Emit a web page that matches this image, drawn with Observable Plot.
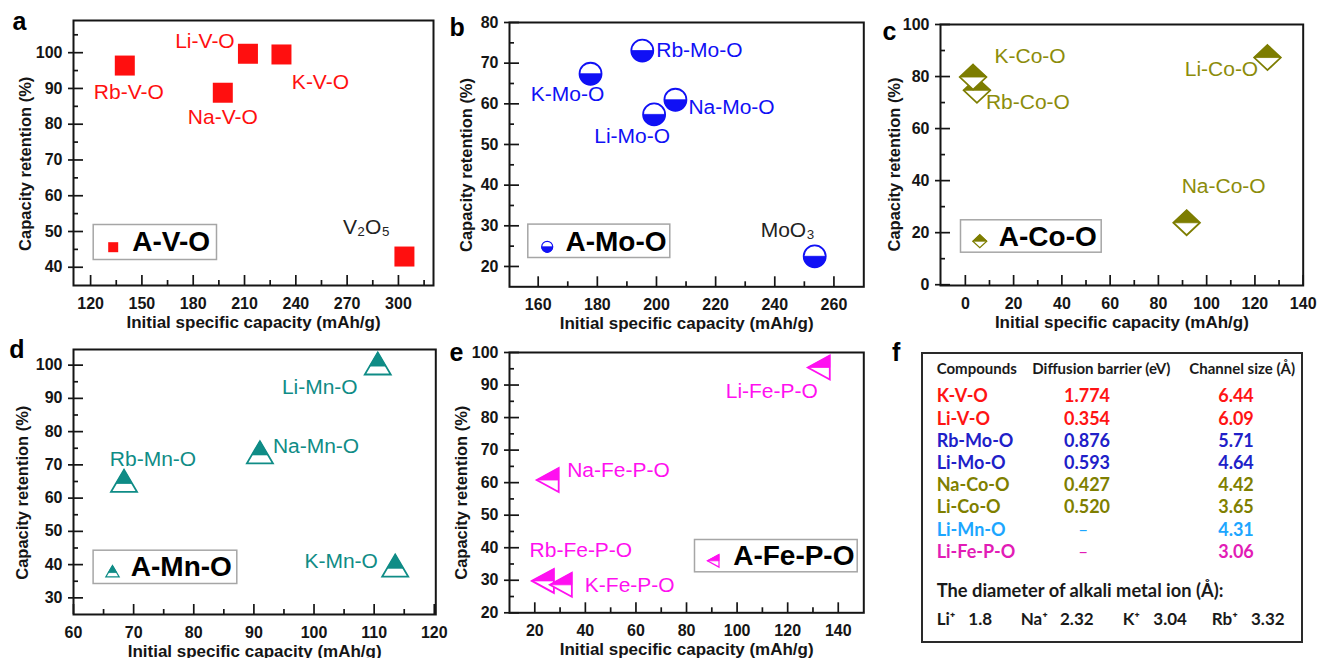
<!DOCTYPE html>
<html><head><meta charset="utf-8">
<script src="https://cdn.jsdelivr.net/npm/d3@7"></script>
<script src="https://cdn.jsdelivr.net/npm/@observablehq/plot@0.6"></script>
<style>
html,body{margin:0;padding:0;background:#fff;}
#root{position:relative;width:1319px;height:658px;overflow:hidden;background:#fff;}
.panel{position:absolute;}
.panel svg{overflow:visible;background:transparent;max-width:none;}
.t{position:absolute;font-family:Lato,"Open Sans",sans-serif;font-weight:bold;white-space:nowrap;line-height:1;}
</style></head><body><div id="root"></div>
<script>
// ---------------- DATA ----------------
const xLabelText = "Initial specific capacity (mAh/g)";
const yLabelText = "Capacity retention (%)";

// a: A-V-O
const avoNames = ["Rb-V-O", "Li-V-O", "Na-V-O", "K-V-O", "V₂O₅"];
const avoCapacity = [140, 212, 197.3, 231.6, 303.5];
const avoRetention = [96.4, 99.7, 88.8, 99.5, 43.0];
const avoXTicks = [120, 150, 180, 210, 240, 270, 300];
const avoXMinor = [135, 165, 195, 225, 255, 285, 315];
const avoYTicks = [40, 50, 60, 70, 80, 90, 100];
const avoYMinor = [45, 55, 65, 75, 85, 95, 105];

// b: A-Mo-O
const amoNames = ["K-Mo-O", "Rb-Mo-O", "Li-Mo-O", "Na-Mo-O", "MoO₃"];
const amoCapacity = [177.7, 195.2, 199.2, 206.4, 253.5];
const amoRetention = [67.4, 73.1, 57.4, 61.0, 22.5];
const amoXTicks = [160, 180, 200, 220, 240, 260];
const amoXMinor = [170, 190, 210, 230, 250];
const amoYTicks = [20, 30, 40, 50, 60, 70, 80];
const amoYMinor = [25, 35, 45, 55, 65, 75];

// c: A-Co-O
const acoNames = ["Rb-Co-O", "K-Co-O", "Li-Co-O", "Na-Co-O"];
const acoCapacity = [4.8, 3.2, 125.2, 91.7];
const acoRetention = [74.7, 79.8, 87.3, 23.8];
const acoXTicks = [0, 20, 40, 60, 80, 100, 120, 140];
const acoXMinor = [10, 30, 50, 70, 90, 110, 130];
const acoYTicks = [0, 20, 40, 60, 80, 100];
const acoYMinor = [10, 30, 50, 70, 90];

// d: A-Mn-O
const amnNames = ["Li-Mn-O", "Na-Mn-O", "Rb-Mn-O", "K-Mn-O"];
const amnCapacity = [110.6, 91.0, 68.4, 113.5];
const amnRetention = [100.5, 73.8, 65.2, 39.7];
const amnXTicks = [60, 70, 80, 90, 100, 110, 120];
const amnXMinor = [65, 75, 85, 95, 105, 115];
const amnYTicks = [30, 40, 50, 60, 70, 80, 90, 100];
const amnYMinor = [35, 45, 55, 65, 75, 85, 95];

// e: A-Fe-P-O
const afpNames = ["Li-Fe-P-O", "Na-Fe-P-O", "Rb-Fe-P-O", "K-Fe-P-O"];
const afpCapacity = [132.3, 25.1, 23.2, 30.3];
const afpRetention = [95.4, 60.8, 29.8, 28.6];
const afpXTicks = [20, 40, 60, 80, 100, 120, 140];
const afpXMinor = [30, 50, 70, 90, 110, 130];
const afpYTicks = [20, 30, 40, 50, 60, 70, 80, 90, 100];
const afpYMinor = [25, 35, 45, 55, 65, 75, 85, 95];

// f: table
const tableHeaders = ["Compounds", "Diffusion barrier (eV)", "Channel size (Å)"];
const tableCompounds = ["K-V-O", "Li-V-O", "Rb-Mo-O", "Li-Mo-O", "Na-Co-O", "Li-Co-O", "Li-Mn-O", "Li-Fe-P-O"];
const tableBarriers = ["1.774", "0.354", "0.876", "0.593", "0.427", "0.520", "–", "–"];
const tableChannels = ["6.44", "6.09", "5.71", "4.64", "4.42", "3.65", "4.31", "3.06"];
const ionTitle = "The diameter of alkali metal ion (Å):";
const ionNames = ["Li⁺", "Na⁺", "K⁺", "Rb⁺"];
const ionDiameters = ["1.8", "2.32", "3.04", "3.32"];

// ---------------- STYLE / LAYOUT ----------------
const FONT = "Liberation Sans, Arial, Helvetica, sans-serif";
const root = document.getElementById("root");

function sym(fn) { return { draw(ctx, size) { const r = Math.sqrt(size / Math.PI); fn(ctx, r); } }; }
const SQUARE = sym((c, r) => { c.moveTo(-r, -r); c.lineTo(r, -r); c.lineTo(r, r); c.lineTo(-r, r); c.closePath(); });
const CIRCLE = sym((c, r) => { c.moveTo(r, 0); c.arc(0, 0, r, 0, 2 * Math.PI); c.closePath(); });
const CIRCLE_LOW = sym((c, r) => { c.moveTo(r, 0); c.arc(0, 0, r, 0, Math.PI); c.closePath(); });
const DIAMOND = sym((c, r) => { const h = r * 0.94; c.moveTo(0, -h); c.lineTo(r, 0); c.lineTo(0, h); c.lineTo(-r, 0); c.closePath(); });
const DIAMOND_TOP = sym((c, r) => { const h = r * 0.94; c.moveTo(0, -h); c.lineTo(r, 0); c.lineTo(-r, 0); c.closePath(); });
const TRI = sym((c, r) => { const h = r * 0.85; c.moveTo(0, -h); c.lineTo(r, h); c.lineTo(-r, h); c.closePath(); });
const TRI_TOP = sym((c, r) => { const h = r * 0.85, f = 0.62, yb = -h + 2 * h * f; c.moveTo(0, -h); c.lineTo(r * f, yb); c.lineTo(-r * f, yb); c.closePath(); });
const LTRI = sym((c, r) => { const h = r * 1.09; c.moveTo(-r, 0); c.lineTo(r, -h); c.lineTo(r, h); c.closePath(); });
const LTRI_TOP = sym((c, r) => { const h = r * 1.09; c.moveTo(-r, 0); c.lineTo(r, -h); c.lineTo(r, 0); c.closePath(); });

function layers(outline, fillSym, color, sw) {
  return [
    { symbol: outline, fill: "white", stroke: color, sw },
    { symbol: fillSym, fill: color, stroke: color, sw: 0.8 }
  ];
}

function panel(P) {
  const [L, T, R, B] = P.frame, mL = 80, mT = 30, mR = 20, mB = 60;
  const fw = R - L, fh = B - T;
  const marks = [];
  const [bx0, by0, bx1, by1] = P.legendBox;
  marks.push(Plot.frame({ stroke: "#a6a6a6", strokeWidth: 1.5, insetLeft: bx0 - L, insetTop: by0 - T, insetRight: R - bx1, insetBottom: B - by1 }));
  const tk = { stroke: "#151515", strokeWidth: 1.7 };
  marks.push(Plot.tickX(P.xMinor, { x: d => d, insetTop: fh - 5, ...tk }));
  marks.push(Plot.tickX(P.xTicks, { x: d => d, insetTop: fh - 10, ...tk }));
  marks.push(Plot.tickY(P.yMinor, { y: d => d, insetRight: fw - 5, ...tk }));
  marks.push(Plot.tickY(P.yTicks, { y: d => d, insetLeft: -5, insetRight: fw - 10, ...tk }));
  marks.push(Plot.frame({ stroke: "#151515", strokeWidth: 2 }));
  const tl = { fontSize: 16, fontWeight: "bold", fontFamily: FONT, fill: "#151515" };
  marks.push(Plot.text(P.xTicks, { x: d => d, frameAnchor: "bottom", dy: 18, lineAnchor: "middle", textAnchor: "middle", text: d => String(d), ...tl }));
  marks.push(Plot.text(P.yTicks, { y: d => d, frameAnchor: "left", dx: -11, textAnchor: "end", lineAnchor: "middle", text: d => String(d), ...tl }));
  marks.push(Plot.text([xLabelText], { frameAnchor: "bottom", dy: 37, lineAnchor: "middle", textAnchor: "middle", text: d => d, ...tl, fontSize: 17 }));
  marks.push(Plot.text([yLabelText], { frameAnchor: "left", dx: P.yLabelPos[0] - L, dy: P.yLabelPos[1] - (T + B) / 2, rotate: -90, textAnchor: "middle", lineAnchor: "middle", text: d => d, ...tl, fontSize: 16.5 }));
  marks.push(Plot.text([P.letter], { frameAnchor: "top-left", dx: P.letterPos[0] - L, dy: P.letterPos[1] - T, textAnchor: "start", lineAnchor: "middle", text: d => d, ...tl, fontSize: 25, fill: "#000" }));
  // points
  P.order.forEach(i => {
    P.marker.forEach(ly => marks.push(Plot.dot([i], { x: k => P.xs[k], y: k => P.ys[k], symbol: ly.symbol, r: P.r, fill: ly.fill, stroke: ly.stroke, strokeWidth: ly.sw })));
  });
  // labels
  P.names.forEach((n, i) => {
    const [dx, dy, anchor] = P.labelOffsets[i];
    marks.push(Plot.text([i], { x: k => P.xs[k], y: k => P.ys[k], text: k => P.names[k], dx, dy, textAnchor: anchor, lineAnchor: "middle", fontSize: 21, fontFamily: FONT, fill: P.labelColors[i] }));
  });
  // legend
  P.legendMarker.forEach(ly => marks.push(Plot.dot([0], { frameAnchor: "top-left", dx: P.legendMarkerPos[0] - L, dy: P.legendMarkerPos[1] - T, symbol: ly.symbol, r: P.legendR, fill: ly.fill, stroke: ly.stroke, strokeWidth: ly.sw })));
  marks.push(Plot.text([P.legendText], { frameAnchor: "top-left", dx: P.legendTextPos[0] - L, dy: P.legendTextPos[1] - T, textAnchor: "start", lineAnchor: "middle", text: d => d, fontSize: 28, fontWeight: "bold", fontFamily: FONT, fill: "#000" }));

  const svg = Plot.plot({
    width: fw + mL + mR, height: fh + mT + mB,
    marginLeft: mL, marginTop: mT, marginRight: mR, marginBottom: mB,
    x: { domain: P.xDomain, axis: null },
    y: { domain: P.yDomain, axis: null },
    style: { background: "transparent", overflow: "visible" },
    marks
  });
  const div = document.createElement("div");
  div.className = "panel";
  div.style.left = (L - mL) + "px";
  div.style.top = (T - mT) + "px";
  div.appendChild(svg);
  root.appendChild(div);
}

const RED = "#ff0f0f", BLUE = "#1010f5", OLIVE = "#7d7d00", OLIVE_T = "#8c8c0a", TEAL = "#0f8c86", MAG = "#ff10f0";

panel({
  frame: [73, 20, 433, 285], xDomain: [110, 320.5], yDomain: [34.9, 109],
  xTicks: avoXTicks, xMinor: avoXMinor, yTicks: avoYTicks, yMinor: avoYMinor,
  names: avoNames, xs: avoCapacity, ys: avoRetention, order: [0, 1, 2, 3, 4],
  marker: [{ symbol: SQUARE, fill: RED, stroke: "none", sw: 0 }], r: 10,
  labelOffsets: [[4, 27, "middle"], [-43, -12, "middle"], [0, 25, "middle"], [39, 28, "middle"], [-38, -29, "middle"]],
  labelColors: [RED, RED, RED, RED, "#222"],
  legendBox: [92.7, 224, 216, 259], legendMarkerPos: [112.7, 246.7], legendR: 5,
  legendMarker: [{ symbol: SQUARE, fill: RED, stroke: "none", sw: 0 }],
  legendText: "A-V-O", legendTextPos: [131.7, 241.7],
  letter: "a", letterPos: [12, 21.7], yLabelPos: [25, 163.3]
});

panel({
  frame: [509, 21.7, 863.3, 286], xDomain: [150.3, 270.1], yDomain: [15, 80],
  xTicks: amoXTicks, xMinor: amoXMinor, yTicks: amoYTicks, yMinor: amoYMinor,
  names: amoNames, xs: amoCapacity, ys: amoRetention, order: [0, 1, 2, 3, 4],
  marker: layers(CIRCLE, CIRCLE_LOW, BLUE, 1.8), r: 11,
  labelOffsets: [[-23, 21, "middle"], [14, 0, "start"], [-22, 22, "middle"], [13, 8, "start"], [-27, -26, "middle"]],
  labelColors: [BLUE, BLUE, BLUE, BLUE, "#222"],
  legendBox: [527.3, 223.3, 669.3, 256.7], legendMarkerPos: [546.7, 246], legendR: 5.5,
  legendMarker: layers(CIRCLE, CIRCLE_LOW, BLUE, 1.2),
  legendText: "A-Mo-O", legendTextPos: [565, 240.8],
  letter: "b", letterPos: [449, 27], yLabelPos: [466.7, 164.2]
});

panel({
  frame: [940, 24, 1302.7, 285], xDomain: [-10.3, 140], yDomain: [-0.3, 100],
  xTicks: acoXTicks, xMinor: acoXMinor, yTicks: acoYTicks, yMinor: acoYMinor,
  names: acoNames, xs: acoCapacity, ys: acoRetention, order: [0, 1, 2, 3],
  marker: layers(DIAMOND, DIAMOND_TOP, OLIVE, 1.8), r: 13.3,
  labelOffsets: [[51, 12, "middle"], [57, -21, "middle"], [-46, 12, "middle"], [37, -37, "middle"]],
  labelColors: [OLIVE_T, OLIVE_T, OLIVE_T, OLIVE_T],
  legendBox: [960, 219.3, 1100.7, 251.7], legendMarkerPos: [979.3, 240.7], legendR: 7,
  legendMarker: layers(DIAMOND, DIAMOND_TOP, OLIVE, 1.2),
  legendText: "A-Co-O", legendTextPos: [998.3, 236.7],
  letter: "c", letterPos: [882, 31.7], yLabelPos: [894, 164]
});

panel({
  frame: [72.7, 349, 435, 614], xDomain: [60, 120.25], yDomain: [25, 104.7],
  xTicks: amnXTicks, xMinor: amnXMinor, yTicks: amnYTicks, yMinor: amnYMinor,
  names: amnNames, xs: amnCapacity, ys: amnRetention, order: [0, 1, 2, 3],
  marker: layers(TRI, TRI_TOP, TEAL, 1.8), r: 13,
  labelOffsets: [[-58, 24, "middle"], [13, -5.5, "start"], [29, -22, "middle"], [-54, -4, "middle"]],
  labelColors: [TEAL, TEAL, TEAL, TEAL],
  legendBox: [92.3, 549.7, 236, 583], legendMarkerPos: [111.7, 570.7], legendR: 6.7,
  legendMarker: layers(TRI, TRI_TOP, TEAL, 1.2),
  legendText: "A-Mn-O", legendTextPos: [130, 567],
  letter: "d", letterPos: [8.5, 350], yLabelPos: [21.7, 492.2]
});

panel({
  frame: [509, 352, 863.3, 612.3], xDomain: [10, 150.1], yDomain: [20, 100],
  xTicks: afpXTicks, xMinor: afpXMinor, yTicks: afpYTicks, yMinor: afpYMinor,
  names: afpNames, xs: afpCapacity, ys: afpRetention, order: [0, 1, 2, 3],
  marker: layers(LTRI, LTRI_TOP, MAG, 1.8), r: 11,
  labelOffsets: [[-47, 24, "middle"], [19.5, -10, "start"], [38, -31, "middle"], [24, 0.5, "start"]],
  labelColors: [MAG, MAG, MAG, MAG],
  legendBox: [694, 539, 856.7, 571.3], legendMarkerPos: [712.7, 560.3], legendR: 5.8,
  legendMarker: layers(LTRI, LTRI_TOP, MAG, 1.2),
  legendText: "A-Fe-P-O", legendTextPos: [732.7, 555.5],
  letter: "e", letterPos: [449, 352.2], yLabelPos: [461.7, 492.2]
});

// ---------------- panel f (table) ----------------
function txt(s, x, y, size, color, anchor, weight) {
  const d = document.createElement("div");
  d.className = "t";
  d.textContent = s;
  d.style.left = x + "px";
  d.style.top = y + "px";
  d.style.fontSize = size + "px";
  d.style.color = color;
  if (weight) d.style.fontWeight = weight;
  const tx = anchor === "middle" ? "-50%" : anchor === "end" ? "-100%" : "0";
  d.style.transform = `translate(${tx},-55%)`;
  root.appendChild(d);
  return d;
}
const box = document.createElement("div");
Object.assign(box.style, { position: "absolute", left: "920.7px", top: "352px", width: "382.6px", height: "291px", boxSizing: "border-box", border: "2px solid #2a2a2a" });
root.appendChild(box);
const letterF = document.createElement("div");
letterF.textContent = "f";
Object.assign(letterF.style, { position: "absolute", left: "892px", top: "340px", fontFamily: FONT, fontWeight: "bold", fontSize: "25px", lineHeight: "1", color: "#000" });
root.appendChild(letterF);

const rowColors = ["#ff1414", "#ff1414", "#2020c8", "#2020c8", "#7f7f00", "#7f7f00", "#1ca6ff", "#e21cb6"];
const headerX = [936.7, 1032.3, 1189.3];
tableHeaders.forEach((h, i) => txt(h, headerX[i], 369, 15, "#1a1a1a", "start"));
const rowY = [396.3, 418.7, 440.7, 463, 485.3, 507.3, 529.7, 552];
tableCompounds.forEach((c, i) => {
  txt(c, 936.7, rowY[i], 18, rowColors[i], "start");
  const dash = tableBarriers[i] === "–";
  txt(tableBarriers[i], dash ? 1083.3 : 1087, rowY[i], dash ? 17 : 18, rowColors[i], "middle", dash ? "normal" : null);
  txt(tableChannels[i], 1236, rowY[i], 18, rowColors[i], "middle");
});
txt(ionTitle, 936.7, 591.3, 18.3, "#1a1a1a", "start");
const ionX = [936.7, 1020.7, 1122.7, 1211.7];
const ionValX = [968.3, 1060, 1153.3, 1251];
ionNames.forEach((n, i) => {
  txt(n, ionX[i], 618.7, 17, "#1a1a1a", "start");
  txt(ionDiameters[i], ionValX[i], 618.7, 17, "#1a1a1a", "start");
});
</script></body></html>
